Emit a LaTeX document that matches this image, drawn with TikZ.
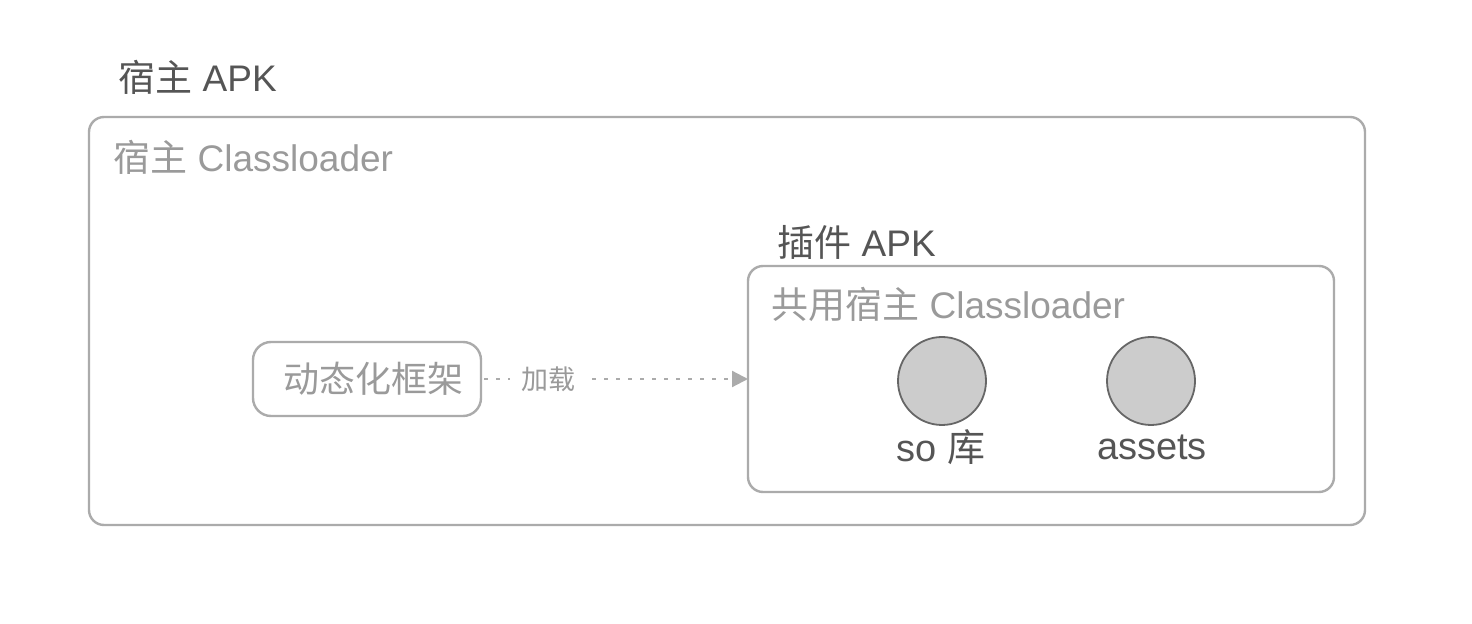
\documentclass[tikz,border=0pt]{standalone}
\usepackage{fontspec}
\setmainfont{Liberation Sans}
\newfontfamily\cjk{Noto Sans CJK SC}
\usetikzlibrary{arrows.meta}
\definecolor{boxc}{HTML}{ABABAB}
\definecolor{lightt}{HTML}{9A9A9A}
\definecolor{darkt}{HTML}{555555}
\definecolor{cfill}{HTML}{CCCCCC}
\definecolor{cline}{HTML}{666666}
\tikzset{
  frame/.style={draw=boxc, line width=1.2pt, rounded corners=7.5pt},
  title/.style={text=darkt, font=\fontsize{18.5}{22}\selectfont, inner sep=0pt, anchor=west},
  sub/.style={text=lightt, font=\fontsize{18.5}{22}\selectfont, inner sep=0pt, anchor=west},
  ball/.style={circle, draw=cline, fill=cfill, line width=0.9pt, minimum size=44pt, inner sep=0pt},
  lab/.style={text=darkt, font=\fontsize{19}{22}\selectfont, inner sep=0pt},
}
\begin{document}
\begin{tikzpicture}[x=0.5pt,y=-0.5pt]
\useasboundingbox (0,0) rectangle (1472,624);
\draw[frame] (89,117) rectangle (1365,525);
\node[title] (hostapk) at (118,77) {{\cjk 宿主} APK};
\node[sub] (hostcl) at (113,157) {{\cjk 宿主} Classloader};
\node[frame, draw=boxc, rounded corners=9pt, minimum width=114pt, minimum height=37pt, text=lightt, font=\fontsize{18}{22}\selectfont\cjk, align=center] (fw) at (367,379) {\hspace*{6pt}动态化框架};
\draw[frame] (748,266) rectangle (1334,492);
\coordinate (pin) at (748,379);
\node[title] (plugapk) at (777,242) {{\cjk 插件} APK};
\node[sub] (plugcl) at (771,304) {{\cjk 共用宿主} Classloader};
\node[ball] (so) at (942,381) {};
\node[ball] (as) at (1151,381) {};
\node[lab] (solab) at (941,447) {so {\cjk 库}};
\node[lab] (aslab) at (1152,447) {assets};
\draw[boxc, line width=1.1pt, dash pattern=on 2pt off 4pt, dash phase=-1pt, -{Triangle[length=8pt,width=8pt]}] (fw.east) -- node[pos=0.25, fill=white, text=lightt, font=\fontsize{13.5}{16}\selectfont\cjk, inner xsep=6pt] (load) {加载} (pin);
\end{tikzpicture}
\end{document}
